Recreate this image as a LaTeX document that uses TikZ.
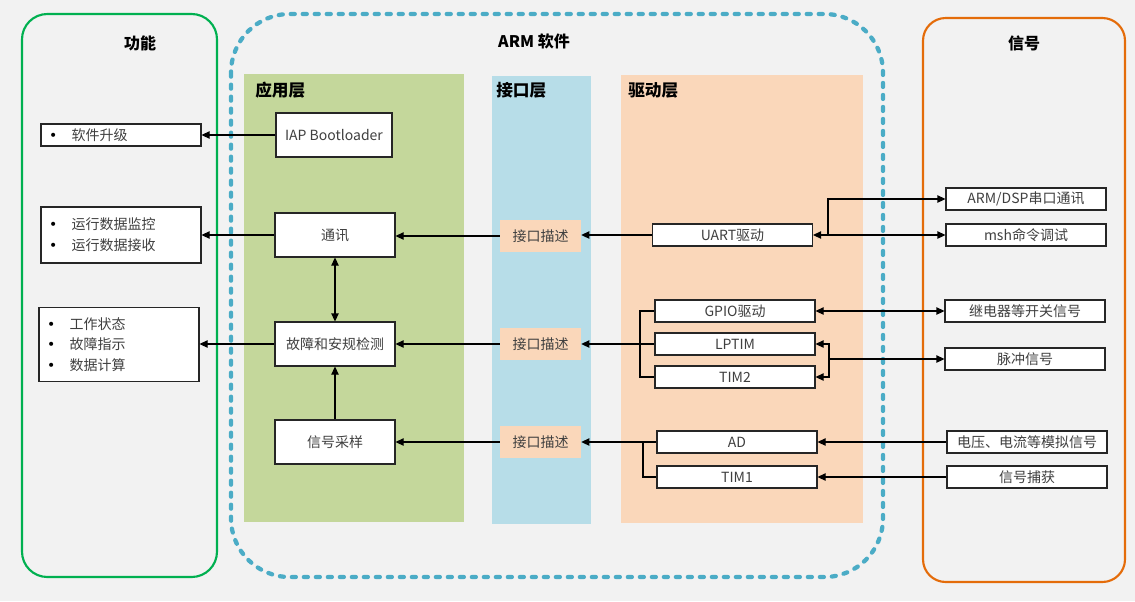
\documentclass[tikz,border=0pt]{standalone}
\usepackage{fontspec}
\setmainfont{Noto Sans CJK SC}
\newfontfamily\dvfont{DejaVu Sans}
\usetikzlibrary{arrows.meta}
\definecolor{bgc}{HTML}{F2F2F2}
\definecolor{grnline}{HTML}{00B050}
\definecolor{orgline}{HTML}{E46C0A}
\definecolor{bluedash}{HTML}{4BACC6}
\definecolor{applayer}{HTML}{C4D79B}
\definecolor{iflayer}{HTML}{B7DDE8}
\definecolor{drvlayer}{HTML}{FAD7BA}
\definecolor{txtc}{HTML}{3F3F3F}
\newcommand{\bitem}[1]{\makebox[17pt][l]{\textcolor{black}{\dvfont •}}#1}
\tikzset{
  box/.style={draw=black!85, line width=0.8pt, fill=white, inner sep=0pt, text=txtc,
    font=\fontsize{10.5}{15.5}\selectfont},
  appbox/.style={box, minimum width=90pt, minimum height=33pt},
  drvbox/.style={box, minimum width=120pt, minimum height=16.5pt},
  sigbox/.style={box, minimum width=120pt, minimum height=16.5pt},
  funcbox/.style={box, align=left, inner xsep=6pt, text width=108pt},
  ifbox/.style={fill=drvlayer, inner sep=0pt, minimum width=60.75pt, minimum height=24pt, text=txtc,
    font=\fontsize{10.5}{12}\selectfont},
  title/.style={font=\fontsize{12}{14}\selectfont\bfseries, text=black, inner sep=0pt},
  layertitle/.style={font=\fontsize{12.5}{14}\selectfont\bfseries, text=black, inner sep=0pt, anchor=west},
  conn/.style={line width=0.8pt, draw=black},
  arr/.style={conn, -{Triangle[length=6pt,width=5.5pt]}},
  darr/.style={conn, {Triangle[length=6pt,width=5.5pt]}-{Triangle[length=6pt,width=5.5pt]}},
}
\begin{document}
\begin{tikzpicture}[x=0.75pt,y=-0.75pt]
\fill[bgc] (0,0) rectangle (1135,601);
\useasboundingbox (0,0) rectangle (1135,601);

% outer frames
\draw[grnline, line width=1.6pt, rounded corners=19pt] (22,14) rectangle (217,577);
\draw[orgline, line width=1.6pt, rounded corners=17pt] (923,18) rectangle (1125,582);
\draw[bluedash, line width=3.2pt, line cap=round, dash pattern=on 3pt off 6pt, rounded corners=44pt] (231,14) rectangle (883,577);

% layers
\fill[applayer] (244,74) rectangle (464,522);
\fill[iflayer] (492,76) rectangle (591,524);
\fill[drvlayer] (621,75) rectangle (863,523);

% titles
\node[title] (tfunc) at (140,43) {功能};
\node[title] (tarm) at (534,41) {ARM 软件};
\node[title] (tsig) at (1024,43) {信号};
\node[layertitle] (lapp) at (255,90) {应用层};
\node[layertitle] (lif) at (496,90) {接口层};
\node[layertitle] (ldrv) at (628,90) {驱动层};

% function boxes
\node[funcbox, minimum height=16.5pt] (f1) at (121,135) {\bitem{软件升级}};
\node[funcbox, minimum height=42pt] (f2) at (121,235) {\bitem{运行数据监控}\\\bitem{运行数据接收}};
\node[funcbox, minimum height=56pt] (f3) at (119,344.5) {\bitem{工作状态}\\\bitem{故障指示}\\\bitem{数据计算}};

% application layer
\node[appbox, minimum width=87pt] (iap) at (334,135) {IAP Bootloader};
\node[appbox] (comm) at (335,235) {通讯};
\node[appbox] (fault) at (335,344) {故障和安规检测};
\node[appbox] (samp) at (335,442) {信号采样};

% interface layer
\node[ifbox] (if1) at (540.5,236) {接口描述};
\node[ifbox] (if2) at (540.5,344) {接口描述};
\node[ifbox] (if3) at (540.5,442) {接口描述};

% driver layer
\node[drvbox] (uart) at (732.5,235) {UART驱动};
\node[drvbox] (gpio) at (735,311) {GPIO驱动};
\node[drvbox] (lptim) at (735,344) {LPTIM};
\node[drvbox] (tim2) at (735,377) {TIM2};
\node[drvbox] (ad) at (737,442) {AD};
\node[drvbox] (tim1) at (737,477) {TIM1};

% signals
\node[sigbox] (armdsp) at (1026,199) {ARM/DSP串口通讯};
\node[sigbox] (msh) at (1026,235) {msh命令调试};
\node[sigbox] (relay) at (1025,311) {继电器等开关信号};
\node[sigbox] (pulse) at (1025,359) {脉冲信号};
\node[sigbox] (volt) at (1027,442) {电压、电流等模拟信号};
\node[sigbox] (cap) at (1027,477) {信号捕获};

% app -> function
\draw[arr] (iap.west) -- (f1.east);
\draw[arr] (comm.west) -- (comm.west -| f2.east);
\draw[arr] (fault.west) -- (fault.west -| f3.east);
\draw[darr] (comm.south) -- (fault.north);
\draw[arr] (samp.north) -- (fault.south);

% interface -> app
\draw[arr] (if1.west) -- (if1.west -| comm.east);
\draw[arr] (if2.west) -- (fault.east);
\draw[arr] (if3.west) -- (samp.east);

% driver -> interface
\draw[arr] (uart.west) -- (uart.west -| if1.east);
\coordinate (b1) at (640,344);
\draw[conn] (gpio.west) -| (b1) |- (tim2.west);
\draw[arr] (lptim.west) -- (if2.east);
\coordinate (b2) at (643,442);
\draw[conn] (b2) |- (tim1.west);
\draw[arr] (ad.west) -- (if3.east);

% driver <-> signals
\coordinate (u1) at (828,235);
\draw[darr] (uart.east) -- (msh.west);
\draw[arr] (u1) |- (armdsp.west);
\draw[darr] (gpio.east) -- (relay.west);
\coordinate (p1) at (829,359);
\draw[arr] (p1) |- (lptim.east);
\draw[arr] (p1) |- (tim2.east);
\draw[arr] (p1) -- (pulse.west);
\draw[arr] (volt.west) -- (ad.east);
\draw[arr] (cap.west) -- (tim1.east);
\end{tikzpicture}
\end{document}
